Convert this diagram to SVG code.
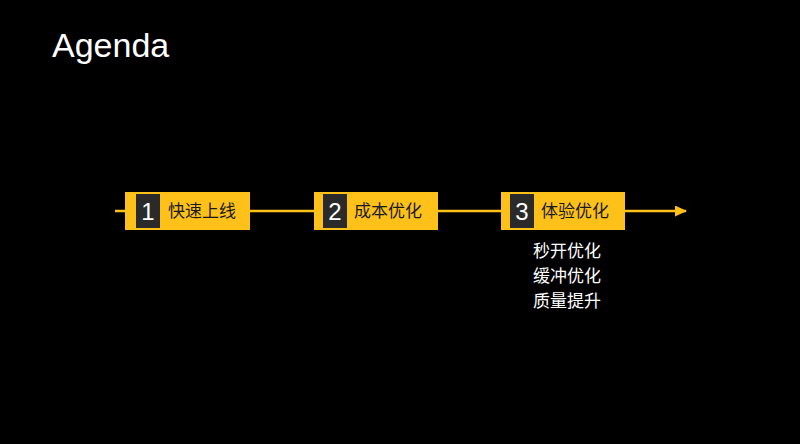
<svg xmlns="http://www.w3.org/2000/svg" width="800" height="444" viewBox="0 0 800 444">
<defs>
<style>
.box{fill:#FDC11A;}
.num{fill:#2A2A2A;}
.numt{fill:#FFFFFF;font-family:"Liberation Sans",Arial,sans-serif;font-size:24px;text-anchor:middle;}
.lbl{fill:#1A1A1A;font-family:"Noto Sans CJK SC",sans-serif;font-size:17px;}
.sub{fill:#FFFFFF;font-family:"Noto Sans CJK SC",sans-serif;font-size:17px;}
.line{stroke:#FDC11A;stroke-width:2.5;fill:none;}
</style>
<marker id="arr" markerWidth="12" markerHeight="11" refX="11" refY="5.5" orient="auto" markerUnits="userSpaceOnUse">
<path d="M0,0 L12,5.5 L0,11 Z" fill="#FDC11A"/>
</marker>
</defs>
<rect width="800" height="444" fill="#000000"/>
<text x="52" y="57" fill="#FFFFFF" font-family="'Liberation Sans',Arial,sans-serif" font-size="34">Agenda</text>
<g id="connectors">
<path class="line" d="M115,211 L686,211" marker-end="url(#arr)"/>
</g>
<g id="node1">
<rect class="box" x="125" y="192" width="125" height="38"/>
<rect class="num" x="136" y="194" width="24" height="34"/>
<text class="numt" x="148" y="220">1</text>
<text class="lbl" x="168" y="217">快速上线</text>
</g>
<g id="node2">
<rect class="box" x="314" y="192" width="124" height="38"/>
<rect class="num" x="323" y="194" width="24" height="34"/>
<text class="numt" x="335" y="220">2</text>
<text class="lbl" x="354" y="217">成本优化</text>
</g>
<g id="node3">
<rect class="box" x="501" y="192" width="124" height="38"/>
<rect class="num" x="510" y="194" width="24" height="34"/>
<text class="numt" x="522" y="220">3</text>
<text class="lbl" x="541" y="217">体验优化</text>
</g>
<g id="sublist">
<text class="sub" x="533" y="257">秒开优化</text>
<text class="sub" x="533" y="282">缓冲优化</text>
<text class="sub" x="533" y="307">质量提升</text>
</g>
</svg>
